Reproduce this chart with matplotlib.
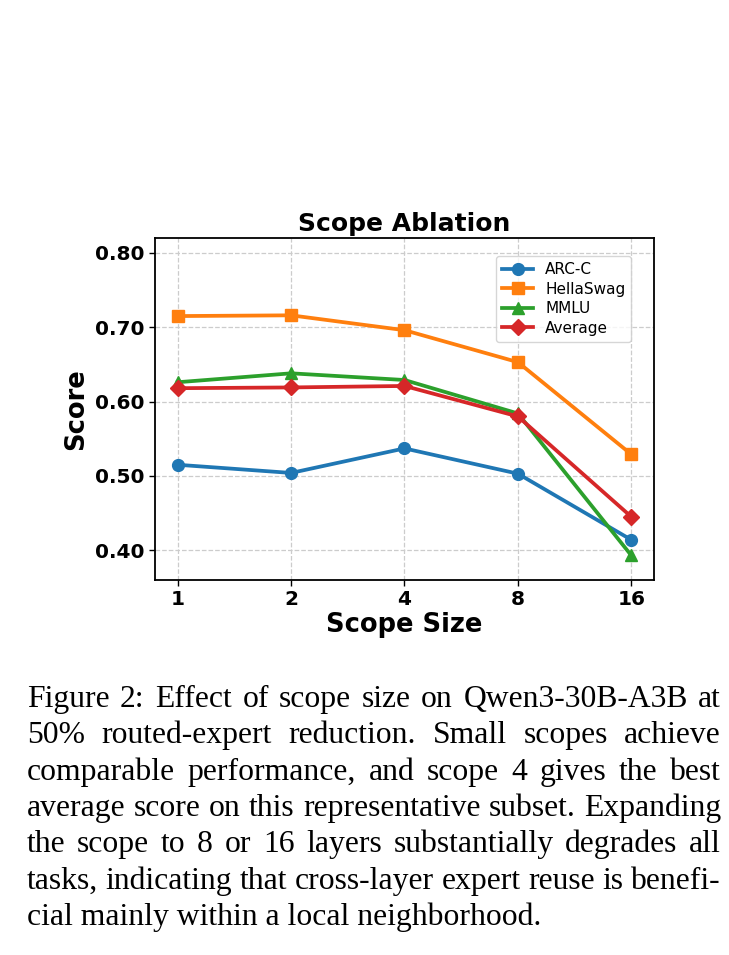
import numpy as np
import matplotlib
matplotlib.use('Agg')
import matplotlib.pyplot as plt

scopes = ['1', '2', '4', '8', '16']
arc_c = [0.515, 0.504, 0.537, 0.503, 0.414]
hellaswag = [0.715, 0.716, 0.696, 0.653, 0.529]
mmlu = [0.626, 0.638, 0.629, 0.584, 0.393]
average = [0.618, 0.619, 0.621, 0.580, 0.445]

caption_lines = [
    "Figure 2: Effect of scope size on Qwen3-30B-A3B at",
    "50% routed-expert reduction.  Small scopes achieve",
    "comparable performance, and scope 4 gives the best",
    "average score on this representative subset. Expanding",
    "the scope to 8 or 16 layers substantially degrades all",
    "tasks, indicating that cross-layer expert reuse is benefi-",
    "cial mainly within a local neighborhood.",
]

W, H = 729, 955
fig = plt.figure(figsize=(W / 100, H / 100), dpi=100)
ax = fig.add_axes([155 / W, 1 - 580 / H, 499 / W, 342 / H])

x = np.arange(len(scopes))
lw, ms = 2.7, 8.5
ax.plot(x, arc_c, marker='o', color='#1f77b4', lw=lw, ms=ms, label='ARC-C')
ax.plot(x, hellaswag, marker='s', color='#ff7f0e', lw=lw, ms=ms, label='HellaSwag')
ax.plot(x, mmlu, marker='^', color='#2ca02c', lw=lw, ms=ms, label='MMLU')
ax.plot(x, average, marker='D', color='#d62728', lw=lw, ms=ms - 0.5, label='Average')

ax.set_xlim(-0.2, 4.2)
ax.set_ylim(0.36, 0.82)
ax.set_xticks(x)
ax.set_xticklabels(scopes)
ax.set_yticks([0.4, 0.5, 0.6, 0.7, 0.8])
ax.set_yticklabels(['%.2f' % v for v in [0.4, 0.5, 0.6, 0.7, 0.8]])
for lab in ax.get_xticklabels() + ax.get_yticklabels():
    lab.set_fontweight('bold')
    lab.set_fontsize(14.5)
ax.tick_params(length=4, width=1)
ax.grid(True, ls='--', color='#cccccc', lw=0.9)
for sp in ax.spines.values():
    sp.set_linewidth(1.3)

ax.set_xlabel('Scope Size', fontsize=18.5, fontweight='bold', labelpad=2)
ax.set_ylabel('Score', fontsize=18.5, fontweight='bold', labelpad=4)
ax.set_title('Scope Ablation', fontsize=18, fontweight='bold', pad=5)
ax.legend(loc='upper right', fontsize=11, handlelength=2.0, borderpad=0.4,
          labelspacing=0.3, bbox_to_anchor=(0.97, 0.97))

# caption, justified
cap_left, cap_right = 27, 721
base0, step = 707, 36.3
fig.canvas.draw()
rend = fig.canvas.get_renderer()

def width_of(s, fs):
    t = fig.text(0, 0, s, fontsize=fs, family='Liberation Serif')
    w = t.get_window_extent(rend).width
    t.remove()
    return w

# largest size where every full line still fits with a small gap
fsize = 22
for cand in np.arange(26, 20, -0.25):
    ok = True
    for line in caption_lines[:-1]:
        words = line.split()
        total = sum(width_of(w, cand) for w in words)
        if (cap_right - cap_left - total) / (len(words) - 1) < 0.22 * cand * 100 / 72:
            ok = False
            break
    if ok:
        fsize = cand
        break

for i, line in enumerate(caption_lines):
    yb = 1 - (base0 + i * step) / H
    words = line.split()
    if i == len(caption_lines) - 1:
        fig.text(cap_left / W, yb, line, fontsize=fsize, family='Liberation Serif', va='baseline')
        continue
    widths = [width_of(w, fsize) for w in words]
    gap = (cap_right - cap_left - sum(widths)) / (len(words) - 1)
    xpos = cap_left
    for w, ww in zip(words, widths):
        fig.text(xpos / W, yb, w, fontsize=fsize, family='Liberation Serif', va='baseline')
        xpos += ww + gap

fig.savefig('out.png', dpi=100)
